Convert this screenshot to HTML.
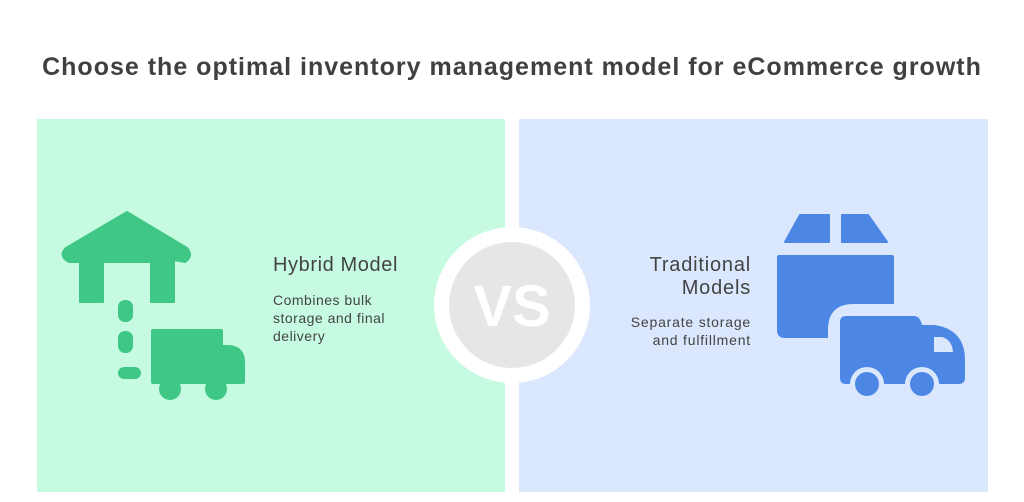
<!DOCTYPE html>
<html><head><style>
body{margin:0;width:1024px;height:502px;background:#fff;position:relative;overflow:hidden;font-family:"Liberation Sans",sans-serif;color:#444}
.t{position:absolute;white-space:nowrap}
</style></head><body>
<div class="t" style="left:0;width:1024px;top:53px;text-align:center;font-size:25px;letter-spacing:1px;font-weight:bold;color:#404040">Choose the optimal inventory management model for eCommerce growth</div>
<div style="position:absolute;left:37px;top:119px;width:468px;height:373px;background:#c6fbe2"></div>
<div style="position:absolute;left:519px;top:119px;width:469px;height:373px;background:#dbe7fd"></div>
<svg width="1024" height="502" style="position:absolute;left:0;top:0">
<g fill="#3ec785">
<path d="M127 212 L187 248 Q194 256 185 262 L174 260 L174 302 L151 302 L151 262 L103 262 L103 302 L80 302 L80 262 L69 262 Q58 256 66 248 Z" stroke="#3ec785" stroke-width="2" stroke-linejoin="round"/>
<rect x="118" y="300" width="15" height="22" rx="7"/>
<rect x="118" y="331" width="15" height="22" rx="7"/>
<rect x="118" y="367" width="23" height="12" rx="6"/>
<path d="M153 329 H221 Q223 329 223 331 V345 H230 Q245 347 245 362 V382 Q245 384 243 384 H153 Q151 384 151 382 V331 Q151 329 153 329 Z"/>
<circle cx="170" cy="389" r="11"/><circle cx="216" cy="389" r="11"/>
</g>
<circle cx="512" cy="305" r="78" fill="#fff"/>
<circle cx="512" cy="305" r="63" fill="#e6e6e6"/>
<text x="512" y="326" text-anchor="middle" font-family="Liberation Sans" font-weight="bold" font-size="58" fill="#fff">VS</text>
<g fill="#4c87e6">
<path d="M785 242 L800 215 L829 215 L829 242 Z" stroke="#4c87e6" stroke-width="2" stroke-linejoin="round"/>
<path d="M842 215 L868 215 L887 242 L842 242 Z" stroke="#4c87e6" stroke-width="2" stroke-linejoin="round"/>
<path d="M779 255 H892 Q894 255 894 257 V304 H854 Q828 304 828 330 V338 H785 Q777 338 777 330 V257 Q777 255 779 255 Z"/>
<path d="M846 316 H914 Q920 316 922 325 H935 Q965 330 965 360 V378 Q965 384 958 384 H846 Q840 384 840 378 V322 Q840 316 846 316 Z"/>
</g>
<path d="M934 337 H942 Q952 340 953 352 H934 Z" fill="#dbe7fd"/>
<circle cx="867" cy="384" r="17" fill="#dbe7fd"/><circle cx="867" cy="384" r="12" fill="#4c87e6"/>
<circle cx="922" cy="384" r="17" fill="#dbe7fd"/><circle cx="922" cy="384" r="12" fill="#4c87e6"/>
</svg>
<div class="t" style="left:273px;top:254px;font-size:20px;letter-spacing:0.6px">Hybrid Model</div>
<div class="t" style="left:273px;top:291px;font-size:14px;letter-spacing:0.5px;line-height:18px">Combines bulk<br>storage and final<br>delivery</div>
<div class="t" style="right:273px;top:254px;font-size:20px;letter-spacing:0.8px;line-height:23px;text-align:right">Traditional<br>Models</div>
<div class="t" style="right:273px;top:313px;font-size:14px;letter-spacing:0.8px;line-height:18px;text-align:right">Separate storage<br>and fulfillment</div>
</body></html>
